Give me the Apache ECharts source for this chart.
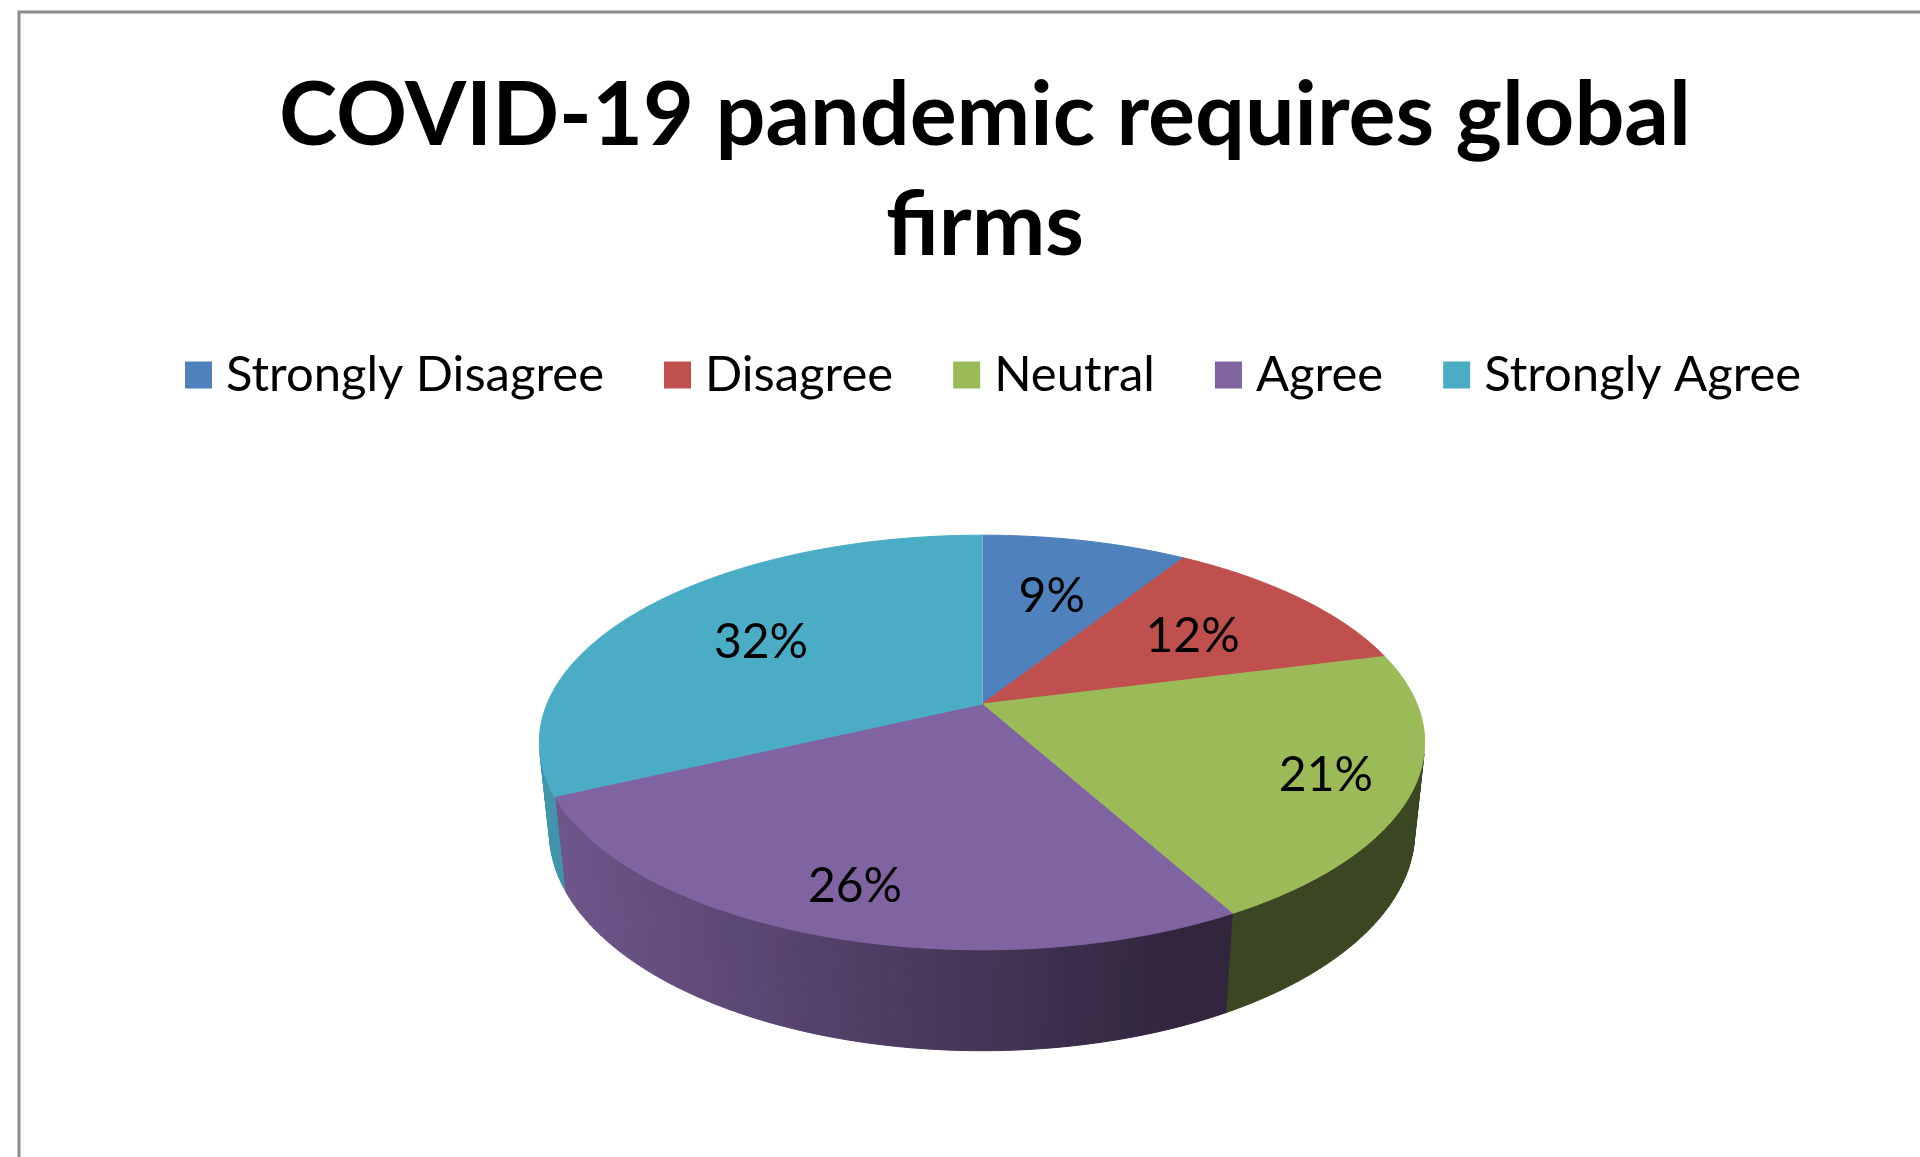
<!DOCTYPE html>
<html>
<head>
<meta charset="utf-8">
<script src="https://cdn.jsdelivr.net/npm/echarts@6/dist/echarts.min.js"></script>
<style>
  html, body { margin: 0; padding: 0; background: #fff; }
  #chart { width: 1920px; height: 1157px; }
</style>
</head>
<body>
<div id="chart"></div>
<script>
const titleText = "COVID-19 pandemic requires global\nfirms";
const categories = ["Strongly Disagree", "Disagree", "Neutral", "Agree", "Strongly Agree"];
const values = [9, 12, 21, 26, 32];
const colors = ["#4f81bd", "#c0504d", "#9bbb59", "#8064a2", "#4bacc6"];

// 3d pie view (excel style perspective)
const cx = 982, cy = 704, S = 435;
const tilt = 27.4 * Math.PI / 180;
const persp = 0.209;
const thick = 0.233;
const cosT = Math.cos(tilt), sinT = Math.sin(tilt);

const total = values.reduce((a, b) => a + b, 0);

function proj(x, y, z) {
  const yc = y * cosT + z * sinT;
  const w = 1 + persp * (-y * sinT + z * cosT);
  return [cx + S * x / w, cy - S * yc / w];
}

function shade(hex, f) {
  const n = parseInt(hex.slice(1), 16);
  const r = Math.round(((n >> 16) & 255) * f);
  const g = Math.round(((n >> 8) & 255) * f);
  const b = Math.round((n & 255) * f);
  return "rgb(" + r + "," + g + "," + b + ")";
}

function wallFactor(sx) {
  const xn = (sx - cx) / S;
  return Math.min(0.9, Math.max(0.38, 0.53 - 0.333 * xn));
}

// outer wall faces the camera only in this range
const thMin = Math.acos(-persp / cosT);
const thMax = 2 * Math.PI - thMin;
const step = Math.PI / 360;

function renderSlice(params, api) {
  const i = params.seriesIndex;
  let before = 0;
  for (let j = 0; j < i; j++) before += values[j];
  const start = before / total * 2 * Math.PI;
  const end = start + api.value(0) / total * 2 * Math.PI;
  const children = [];

  // side wall
  const a0 = Math.max(start, thMin), a1 = Math.min(end, thMax);
  if (a1 > a0) {
    const n = Math.max(1, Math.ceil((a1 - a0) / (2 * step)));
    for (let j = 0; j < n; j++) {
      const t0 = a0 + (a1 - a0) * j / n;
      const t1 = a0 + (a1 - a0) * (j + 1) / n;
      const p = [
        proj(Math.sin(t0), 0, Math.cos(t0)),
        proj(Math.sin(t1), 0, Math.cos(t1)),
        proj(Math.sin(t1), -thick, Math.cos(t1)),
        proj(Math.sin(t0), -thick, Math.cos(t0))
      ];
      const col = shade(colors[i], wallFactor((p[0][0] + p[1][0]) / 2));
      children.push({ type: "polygon", shape: { points: p }, style: { fill: col, stroke: col, lineWidth: 1 } });
    }
  }

  // top face
  const pts = [proj(0, 0, 0)];
  const m = Math.max(2, Math.ceil((end - start) / step));
  for (let j = 0; j <= m; j++) {
    const t = start + (end - start) * j / m;
    pts.push(proj(Math.sin(t), 0, Math.cos(t)));
  }
  children.push({ type: "polygon", shape: { points: pts }, style: { fill: colors[i], stroke: colors[i], lineWidth: 1 } });

  if (i === 0) {
    children.push({
      type: "line",
      shape: { x1: pts[0][0], y1: pts[0][1], x2: pts[1][0], y2: pts[1][1] },
      style: { stroke: "rgba(255,255,255,0.6)", lineWidth: 1.5 }
    });
  }

  // label
  const mid = (start + end) / 2;
  const r = Math.cos(mid) < 0 ? 0.81 : 0.64;
  const lp = proj(r * Math.sin(mid), 0, r * Math.cos(mid));
  children.push({
    type: "text",
    z2: 10,
    style: {
      text: Math.round(api.value(0) / total * 100) + "%",
      x: lp[0], y: lp[1] + 3,
      fill: "#000",
      fontSize: 48,
      fontFamily: "Lato",
      align: "center",
      verticalAlign: "middle"
    }
  });

  return { type: "group", children: children };
}

const chart = echarts.init(document.getElementById("chart"));

const option = {
  animation: false,
  backgroundColor: "#fff",
  color: colors,
  title: {
    text: titleText,
    left: 980,
    top: 57,
    textAlign: "center",
    textStyle: {
      fontFamily: "Lato",
      fontWeight: "bold",
      fontSize: 88,
      lineHeight: 110,
      color: "#000"
    }
  },
  legend: {
    data: categories,
    left: 180,
    top: 342,
    icon: "rect",
    itemWidth: 27,
    itemHeight: 27,
    itemGap: 60,
    textStyle: {
      fontFamily: "Lato",
      fontSize: 49,
      lineHeight: 56,
      color: "#000",
      padding: [0, 0, 0, 9]
    }
  },
  graphic: [
    {
      type: "rect",
      silent: true,
      shape: { x: 19, y: 12, width: 2400, height: 2400 },
      style: { fill: "none", stroke: "#8c8c8c", lineWidth: 3 }
    }
  ],
  series: categories.map((name, i) => ({
    type: "custom",
    name: name,
    coordinateSystem: "none",
    renderItem: renderSlice,
    data: [values[i]]
  }))
};

chart.setOption(option);
</script>
</body>
</html>
